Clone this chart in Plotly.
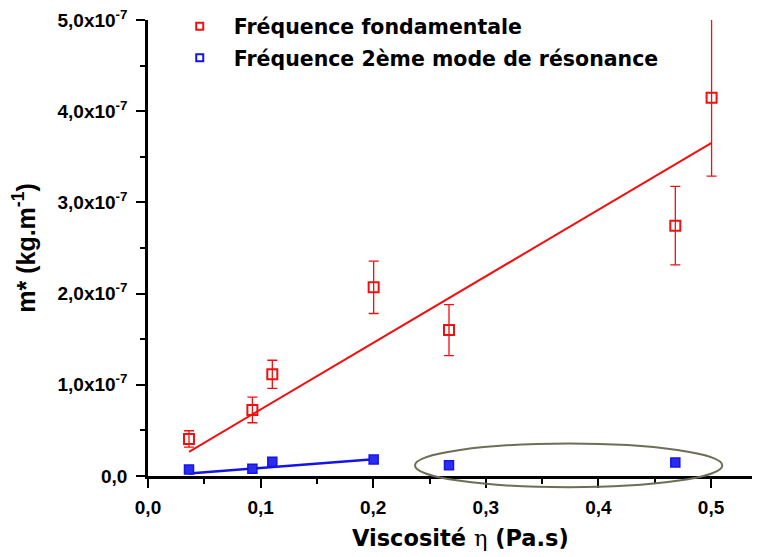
import plotly.graph_objects as go

# --- data ---
visc_fund = [0.0364, 0.0927, 0.1104, 0.2004, 0.2673, 0.4683, 0.5005]
m_fund = [0.406e-7, 0.724e-7, 1.115e-7, 2.069e-7, 1.60e-7, 2.745e-7, 4.148e-7]
err_fund = [0.09e-7, 0.14e-7, 0.154e-7, 0.287e-7, 0.28e-7, 0.43e-7, 0.86e-7]

visc_mode2 = [0.0364, 0.0927, 0.1104, 0.2004, 0.2673, 0.4683]
m_mode2 = [0.071e-7, 0.08e-7, 0.155e-7, 0.18e-7, 0.118e-7, 0.148e-7]
err_mode2 = [0.02e-7, 0.01e-7, 0.02e-7, 0.01e-7, 0.02e-7, 0.02e-7]

fit_fund_x = [0.0364, 0.5005]
fit_fund_y = [0.265e-7, 3.653e-7]
fit_mode2_x = [0.0364, 0.2004]
fit_mode2_y = [0.027e-7, 0.185e-7]

# ellipse (data coords) highlighting excluded points
ell_x = [0.2371, 0.510]
ell_y = [-0.123e-7, 0.356e-7]

series_names = ["Fréquence fondamentale", "Fréquence 2ème mode de résonance"]
x_title = "Viscosité <span style=\"font-family:'DejaVu Serif';font-weight:normal\">η</span> (Pa.s)"
y_title = "m* (kg.m<sup>-1</sup>)"

x_ticks = [0.0, 0.1, 0.2, 0.3, 0.4, 0.5]
x_ticktext = ["0,0", "0,1", "0,2", "0,3", "0,4", "0,5"]
y_ticks = [0, 1e-7, 2e-7, 3e-7, 4e-7, 5e-7]
y_ticktext = ["0,0", "1,0x10<sup>-7</sup>", "2,0x10<sup>-7</sup>", "3,0x10<sup>-7</sup>",
              "4,0x10<sup>-7</sup>", "5,0x10<sup>-7</sup>"]

X_RANGE = [0, 0.5435]
Y_RANGE = [0, 5e-7]

RED = "#f01010"
BLUE = "#1414e6"

fig = go.Figure()

fig.add_trace(go.Scatter(
    x=fit_fund_x, y=fit_fund_y, mode="lines",
    line=dict(color=RED, width=2), showlegend=False, hoverinfo="skip"))
fig.add_trace(go.Scatter(
    x=fit_mode2_x, y=fit_mode2_y, mode="lines",
    line=dict(color=BLUE, width=2.5), showlegend=False, hoverinfo="skip"))

fig.add_trace(go.Scatter(
    x=visc_fund, y=m_fund, mode="markers", name=series_names[0], showlegend=False,
    marker=dict(symbol="square-open", size=10, color=RED, line=dict(width=2, color=RED)),
    error_y=dict(type="data", array=err_fund, color=RED, thickness=1.3, width=5),
    cliponaxis=False))
fig.add_trace(go.Scatter(
    x=visc_mode2, y=m_mode2, mode="markers", name=series_names[1], showlegend=False,
    marker=dict(symbol="square", size=9, color="#2c2cf0", line=dict(width=1.5, color=BLUE)),
    error_y=dict(type="data", array=err_mode2, color="#9090ff", thickness=1, width=2),
    cliponaxis=False))

# legend entries (small open squares as in the reference)
fig.add_trace(go.Scatter(
    x=[None], y=[None], mode="markers", name=series_names[0], legendgroup="a",
    marker=dict(symbol="square-open", size=7, color=RED, line=dict(width=2, color=RED))))
fig.add_trace(go.Scatter(
    x=[None], y=[None], mode="markers", name=series_names[1], legendgroup="b",
    marker=dict(symbol="square-open", size=7, color=BLUE, line=dict(width=2, color=BLUE))))

def xd(v):
    return (v - X_RANGE[0]) / (X_RANGE[1] - X_RANGE[0])

def yd(v):
    return (v - Y_RANGE[0]) / (Y_RANGE[1] - Y_RANGE[0])

fig.add_shape(type="circle", xref="x domain", yref="y domain",
              x0=xd(ell_x[0]), x1=xd(ell_x[1]), y0=yd(ell_y[0]), y1=yd(ell_y[1]),
              line=dict(color="#6e6e58", width=2))

# x-axis title placed as an annotation (slightly right of the plot centre, as in the reference)
fig.add_annotation(text=x_title, xref="paper", yref="paper", x=0.5114, y=-0.136,
                   xanchor="center", yanchor="middle", showarrow=False,
                   font=dict(family="DejaVu Sans", size=22.5, color="black", weight="bold"))

tickfont = dict(family="Liberation Sans, Arial", size=19, color="black", weight="bold")

# page body has an 8px margin, so the figure is 8px smaller than the window
fig.update_layout(
    width=752, height=549,
    margin=dict(l=140, r=0, t=12, b=81, autoexpand=False),
    paper_bgcolor="white", plot_bgcolor="white",
    showlegend=True,
    legend=dict(x=0.029, y=1.03, xanchor="left", yanchor="top",
                font=dict(family="DejaVu Sans", size=20.5, color="black", weight="bold"),
                bgcolor="rgba(0,0,0,0)", itemwidth=58, tracegroupgap=2,
                traceorder="grouped"),
    xaxis=dict(range=X_RANGE, showgrid=False, zeroline=False, automargin=False,
               showline=True, linecolor="black", linewidth=2.5,
               ticks="outside", ticklen=9, tickwidth=2, tickcolor="black",
               tickvals=x_ticks, ticktext=x_ticktext, tickfont=tickfont,
               ticklabelstandoff=3, ticklabeloverflow="allow",
               minor=dict(dtick=0.05, tick0=0, ticks="outside", ticklen=5,
                          tickwidth=2, tickcolor="black")),
    yaxis=dict(range=Y_RANGE, showgrid=False, zeroline=False, automargin=False,
               showline=True, linecolor="black", linewidth=2.5,
               ticks="outside", ticklen=9, tickwidth=2, tickcolor="black",
               tickvals=y_ticks, ticktext=y_ticktext, tickfont=tickfont,
               ticklabelstandoff=5, ticklabeloverflow="allow",
               minor=dict(dtick=0.5e-7, tick0=0, ticks="outside", ticklen=5,
                          tickwidth=2, tickcolor="black"),
               title=dict(text=y_title,
                          font=dict(family="Liberation Sans, Arial", size=25, color="black", weight="bold"),
                          standoff=18)),
)

fig.write_html("out.html")
